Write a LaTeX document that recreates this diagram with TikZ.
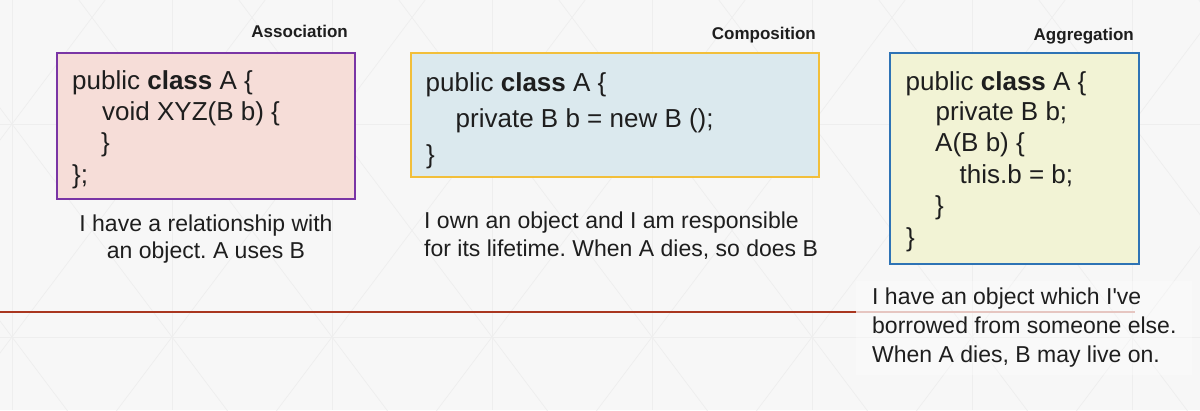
\documentclass[tikz,border=0pt]{standalone}
\usepackage{fontspec}
\setmainfont{Liberation Sans}
\frenchspacing
\definecolor{bgc}{HTML}{F7F7F7}
\definecolor{gridc}{HTML}{EEEEEE}
\definecolor{txt}{HTML}{1E1E1E}
\definecolor{redline}{HTML}{A9361F}
\definecolor{pinkline}{HTML}{E6C6C1}
\definecolor{fillA}{HTML}{F6DDD8}
\definecolor{drawA}{HTML}{7A35A5}
\definecolor{fillB}{HTML}{DBE9EE}
\definecolor{drawB}{HTML}{F2BF3A}
\definecolor{fillC}{HTML}{F2F3D5}
\definecolor{drawC}{HTML}{2E73B5}
\tikzset{
  codebox/.style={line width=2pt},
  codeline/.style={anchor=base west, inner sep=0pt, text=txt, font=\fontsize{26}{31}\selectfont},
  capline/.style={anchor=base west, inner sep=0pt, text=txt, font=\fontsize{23}{28}\selectfont},
  capcenter/.style={anchor=base, inner sep=0pt, text=txt, font=\fontsize{23}{28}\selectfont},
  titlelabel/.style={anchor=base east, inner sep=0pt, text=txt, font=\fontsize{17}{20}\selectfont\bfseries},
  gridline/.style={draw=gridc, line width=0.7pt}
}
\begin{document}
\begin{tikzpicture}[x=1pt,y=-1pt]
\useasboundingbox (0,0) rectangle (1200,410);
\fill[bgc] (0,0) rectangle (1200,410);
% faint background grid
\begin{scope}
\clip (0,0) rectangle (1200,410);
\foreach \k in {0,...,7} {
  \draw[gridline] (12+160*\k,0) -- (12+160*\k,410);
}
\draw[gridline] (0,124) -- (1200,124);
\draw[gridline] (0,337) -- (1200,337);
\foreach \k in {-5,...,12} {
  \draw[gridline] (12+160*\k,-89) -- (652+160*\k,763);
  \draw[gridline] (12+160*\k,-89) -- (-628+160*\k,763);
}
\end{scope}
% caption backdrop for aggregation
\fill[white, opacity=0.3] (856,281) rectangle (1192,375);
% red rule
\coordinate (rl) at (0,312);
\coordinate (rm) at (856,312);
\coordinate (rr) at (1135,312);
\draw[redline, line width=2.8pt] (rl) -- (rm);
\draw[pinkline, line width=2.8pt] (rm) -- (rr);

% Association
\node[titlelabel] (tA) at (348,37.5) {Association};
\draw[codebox, draw=drawA, fill=fillA] (57,53) rectangle (355,199);
\node[codeline] (a1) at (72,89) {public \textbf{class} A \{};
\node[codeline] (a2) at (102,120) {void XYZ(B b) \{};
\node[codeline] (a3) at (101,151) {\}};
\node[codeline] (a4) at (72,183) {\};};
\node[capcenter] (ca1) at (206,231) {I have a relationship with};
\node[capcenter] (ca2) at (206,258.5) {an object. A uses B};

% Composition
\node[titlelabel] (tB) at (816,39) {Composition};
\draw[codebox, draw=drawB, fill=fillB] (411,53) rectangle (819,177);
\node[codeline] (b1) at (425.5,91) {public \textbf{class} A \{};
\node[codeline] (b2) at (455.5,127) {private B b = new B ();};
\node[codeline] (b3) at (426,163) {\}};
\node[capline] (cb1) at (424,228) {I own an object and I am responsible};
\node[capline] (cb2) at (424,256.5) {for its lifetime. When A dies, so does B};

% Aggregation
\node[titlelabel] (tC) at (1134,40) {Aggregation};
\draw[codebox, draw=drawC, fill=fillC] (890,53) rectangle (1139,264);
\node[codeline] (c1) at (905.5,90) {public \textbf{class} A \{};
\node[codeline] (c2) at (935.5,120) {private B b;};
\node[codeline] (c3) at (935,151) {A(B b) \{};
\node[codeline] (c4) at (959.5,183) {this.b = b;};
\node[codeline] (c5) at (935,214) {\}};
\node[codeline] (c6) at (906,246) {\}};
\node[capline] (cc1) at (872,304) {I have an object which I\textquotesingle ve};
\node[capline] (cc2) at (872,333) {borrowed from someone else.};
\node[capline] (cc3) at (872,362) {When A dies, B may live on.};
\end{tikzpicture}
\end{document}
